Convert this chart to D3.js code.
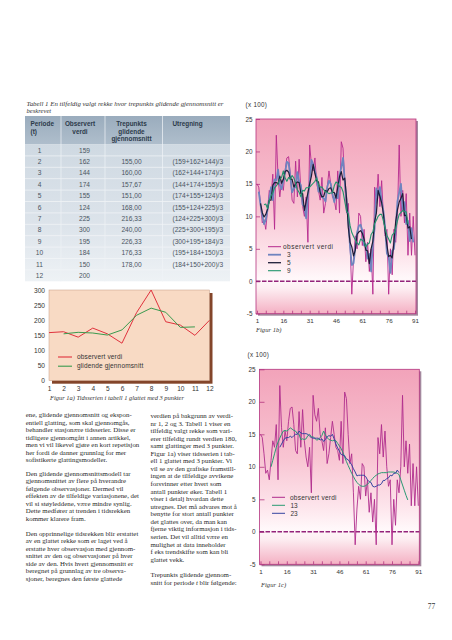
<!DOCTYPE html>
<html><head><meta charset="utf-8">
<script src="https://cdn.jsdelivr.net/npm/d3@7/dist/d3.min.js"></script>
<style>
html,body{margin:0;padding:0;background:#fff;}
svg{display:block;}
</style></head><body>
<svg id="page" width="452" height="640"></svg>
<script>
// ---------------- DATA ----------------
const tableCaption = ["Tabell 1 En tilfeldig valgt rekke hvor trepunkts glidende gjennomsnitt er", "beskrevet"];
const tableHeaders = [["Periode","(t)"],["Observert","verdi"],["Trepunkts","glidende","gjennomsnitt"],["Utregning"]];
const tablePeriods = [1,2,3,4,5,6,7,8,9,10,11,12];
const tableObserved = [159,162,144,174,155,124,225,300,195,184,150,200];
const tableMovingAvg = [null,155.00,160.00,157.67,151.00,168.00,216.33,240.00,226.33,176.33,178.00,null];
const tableFormula = ["","(159+162+144)/3","(162+144+174)/3","(144+174+155)/3","(174+155+124)/3","(155+124+225)/3",
  "(124+225+300)/3","(225+300+195)/3","(300+195+184)/3","(195+184+150)/3","(184+150+200)/3",""];

const fig1aYTicks = [0,50,100,150,200,250,300];
const fig1aLegend = ["observert verdi","glidende gjennomsnitt"];
const fig1aCaption = "Figur 1a) Tidsserien i tabell 1 glattet med 3 punkter";

// 91-period series (x 100)
const observed91 = [
  15,14.5,12,9,9.5,8,11,14,13,16.5,
  8,22.5,16,13,15.5,14,17,19,19.2,16.5,
  12.5,12,18.5,13,18.8,14,11.5,10,13,6,
  21,18,17,19,15,14,12.5,16,10.5,12,
  14.5,17,15,13,12.5,11,17,10.5,21.5,20.5,
  15,10.5,12,6,-2,3.5,7,5,10.5,10,
  5.5,8,3,6,1.5,5,-2,14.5,12,16.5,
  11.5,15.5,10,7,8,-2,5,1,8,6,
  10,21,10,14,9,13.5,4,10.5,4,10,4];
const ma3Start = 2;
const ma3 = [
  13.8,11.8,10.2,8.8,9.5,11,12.7,14.5,12.5,15.7,
  15.5,17.2,14.8,14.2,15.5,16.7,18.4,18.2,16.1,13.7,
  14.3,14.5,16.8,15.3,14.8,11.8,11.5,9.7,13.3,15,
  18.7,18,17,16,13.8,14.2,13,12.8,12.3,14.5,
  15.5,15,13.5,12.2,13.5,12.8,16.3,17.5,19,15.3,
  12.5,9.5,5.3,2.5,2.8,5.2,7.5,8.5,8.7,7.8,
  5.5,5.7,3.5,4.2,1.5,5.8,8.2,14.3,13.3,14.5,
  12.3,10.8,8.3,4.3,3.7,1.3,4.7,5,8,12.3,
  13.7,15,11,12.2,8.8,9.3,6.2,8.2,6];
const ma5Start = 3;
const ma5 = [
  12,10.6,9.9,10.3,11.1,12.5,12.5,14.8,15.2,15.2,
  15,16.2,15.1,15.7,16.9,17.1,16.8,15.8,15.7,14.5,
  15,15.3,15.2,13.5,13.5,10.9,12.3,13.6,15,16.2,
  18,16.6,15.5,15.3,13.6,13,13.1,14,13.8,14.3,
  14.4,13.7,13.7,12.8,14.5,16.1,16.9,15.6,15.9,12.8,
  8.3,6,5.3,3.9,4.8,7.2,7.6,7.8,7.4,6.5,
  4.8,4.7,2.7,5,6.2,9.2,10.5,14,13.1,12.1,
  10.4,7.7,5.6,3.8,4,3.6,6,9.2,11,12.2,
  12.8,13.5,10.1,10.2,8.2,8.4,6.5];
const ma9Start = 5;
const ma9 = [
  11.8,11.9,11.2,12.4,13.2,13.6,14.4,14.7,15.1,15.7,
  16,17,15.9,15.4,16,15.7,16.3,15.9,15.1,14.1,
  13.7,13,14,13.9,14.4,14.4,14.5,14.8,15.1,15.4,
  15.9,14.9,14.5,14.5,14.1,13.8,13.7,13.5,13.6,13.6,
  14.7,15.3,15.1,14.6,14.5,13.8,12.3,10.8,10.4,8.6,
  7.5,6.9,6.4,5.9,5.6,6.5,6.3,6.1,5.3,5.7,
  5.9,7.2,7.6,8.9,9.4,10,10.3,10.3,9.3,8.1,
  7.1,6.5,5.9,7.1,7.4,8.1,9.3,10.3,10.6,10.9,
  10.7,10.7,8.8];
const ma13Start = 7;
const ma13 = [
  10,11,12,13,13.8,14.4,15,15.5,15.6,15.5,
  15.7,16,15.8,15.6,15.5,15.1,15,14.2,14.3,14.2,
  14.3,14.8,15,14.6,14.6,14.4,14.1,14.2,14.5,14.8,
  15.5,14.9,14.5,14.2,14.1,14,14.1,14,13.6,13.2,
  12.8,12.2,11.5,10.8,10.2,9.6,9,8.5,8,7.6,
  7.3,7.1,7,7,7.1,7.3,7.6,7.9,8.2,8.5,
  8.7,8.9,9,9.1,9.1,9.1,9.1,9.2,9.2,9.2,
  9.2,9.1,9,8.8,8,7.2,6.4,5.6,4.9];
const ma23Start = 12;
const ma23 = [
  13,13.5,14,14.4,14.5,14.5,14.7,14.5,14.8,15,
  15,15.5,15.2,15.1,15.1,15.1,15,14.7,14.5,14.4,
  14.4,14.4,14.4,14.1,14.3,13.9,14.2,14.6,14.8,14.7,
  15,14.3,13.5,12.9,12.4,11.9,11.8,11.7,11.2,11.1,
  10.7,10.3,9.7,9.2,8.6,8.7,8.7,8.7,8.7,8.5,
  8,7.7,7.6,7,6.9,7,7.2,7.2,7.4,7.9,
  7.9,8.2,8.3,8.7,8.6,9,9,9.5,9.1];

const figBYTicks = [-5,0,5,10,15,20,25];
const figBXTicks = [1,16,31,46,61,76,91];
const figBMinorStep = 5;
const fig1bLegend = ["observert verdi","3","5","9"];
const fig1cLegend = ["observert verdi","13","23"];
const unitLabel = "(x 100)";

const textLeft = [
 ["ene, glidende gjennomsnitt og ekspon-","entiell glatting, som skal gjennomgås,","behandler stasjonære tidsserier. Disse er","tidligere gjennomgått i annen artikkel,","men vi vil likevel gjøre en kort repetisjon","her fordi de danner grunnlag for mer","sofistikerte glattingsmodeller."],
 ["Den glidende gjennomsnittsmodell tar","gjennomsnittet av flere på hverandre","følgende observasjoner. Dermed vil","effekten av de tilfeldige variasjonene, det","vil si støyleddene, være mindre synlig.","Dette medfører at trenden i tidsrekken","kommer klarere fram."],
 ["Den opprinnelige tidsrekken blir erstattet","av en glattet rekke som er laget ved å","erstatte hver observasjon med gjennom-","snittet av den og observasjoner på hver","side av den. Hvis hvert gjennomsnitt er","beregnet på grunnlag av tre observa-","sjoner, beregnes den første glattede"]
];
const textMiddle = [
 ["verdien på bakgrunn av verdi-","nr 1, 2 og 3. Tabell 1 viser en","tilfeldig valgt rekke som vari-","erer tilfeldig rundt verdien 180,","samt glattinger med 3 punkter.","Figur 1a) viser tidsserien i tab-","ell 1 glattet med 3 punkter. Vi","vil se av den grafiske framstill-","ingen at de tilfeldige avvikene","forsvinner etter hvert som","antall punkter øker. Tabell 1","viser i detalj hvordan dette","utregnes. Det må advares mot å","benytte for stort antall punkter","det glattes over, da man kan","fjerne viktig informasjon i tids-","serien. Det vil alltid være en","mulighet at data inneholder","f eks trendskifte som kan bli","glattet vekk."],
 ["Trepunkts glidende gjennom-","snitt for periode |t| blir følgende:"]
];
const pageNumber = "77";

// ---------------- DRAWING ----------------
const SERIF = "'Liberation Serif','DejaVu Serif',serif";
const SANS = "'Liberation Sans',Arial,sans-serif";
const svg = d3.select("#page");
const defs = svg.append("defs");
svg.append("rect").attr("width",452).attr("height",640).attr("fill","#fff");

function grad(id, stops){
  const g = defs.append("linearGradient").attr("id",id).attr("x1",0).attr("y1",0).attr("x2",0).attr("y2",1);
  stops.forEach(s=>g.append("stop").attr("offset",s[0]).attr("stop-color",s[1]));
}
grad("tblHead",[[0,"#9aacbd"],[1,"#afbecc"]]);
grad("tblBody",[[0,"#cfd9e2"],[0.6,"#dde4eb"],[1,"#eef2f5"]]);
grad("pink",[[0,"#f2a3ba"],[0.45,"#f8c4d2"],[0.7,"#fde4eb"],[0.82,"#fff8fa"],[0.87,"#fdeef2"],[1,"#f4b0c3"]]);

// ---- table caption
svg.append("g").selectAll("text").data(tableCaption).join("text")
  .attr("x",26.5).attr("y",(d,i)=>106.3+i*7)
  .attr("font-family",SERIF).attr("font-style","italic").attr("font-size",6.6).attr("fill","#333")
  .attr("textLength",(d,i)=>i===0?197:null).attr("lengthAdjust","spacingAndGlyphs")
  .text(d=>d);

// ---- table
const tX = 25, tW = 205, tTop = 116, tHeadH = 28.5;
const rowY = d3.scaleBand().domain(tablePeriods).range([tTop+tHeadH, tTop+tHeadH+136.8]);
const tBottom = rowY.range()[1];
svg.append("rect").attr("x",tX).attr("y",tTop).attr("width",tW).attr("height",tHeadH).attr("fill","url(#tblHead)");
svg.append("rect").attr("x",tX).attr("y",tTop+tHeadH).attr("width",tW).attr("height",tBottom-tTop-tHeadH).attr("fill","url(#tblBody)");
svg.append("g").selectAll("line").data(tablePeriods.slice(1)).join("line")
  .attr("x1",tX).attr("x2",tX+tW).attr("y1",d=>rowY(d)).attr("y2",d=>rowY(d))
  .attr("stroke","#f3f6f8").attr("stroke-width",0.7);
svg.append("g").selectAll("line").data([61,105,162.5]).join("line")
  .attr("x1",d=>d).attr("x2",d=>d).attr("y1",tTop).attr("y2",tBottom)
  .attr("stroke","#f0f4f7").attr("stroke-width",0.8).attr("opacity",0.9);
const headCols = [{x:30.5,a:"start"},{x:80,a:"middle"},{x:131.5,a:"middle"},{x:172.5,a:"start"}];
tableHeaders.forEach((h,ci)=>{
  h.forEach((s,li)=>{
    svg.append("text").attr("x",headCols[ci].x).attr("y",126.3+li*7.2)
      .attr("text-anchor",headCols[ci].a).attr("font-family",SANS).attr("font-weight","bold")
      .attr("font-size",6.4).attr("fill","#2c3a4a").text(s);
  });
});
const fmt = v => v==null ? "" : v.toFixed(2).replace(".",",");
const cellG = svg.append("g").attr("font-family",SANS).attr("font-size",6.6).attr("fill","#4a5562");
const cy = p => rowY(p)+rowY.bandwidth()/2+2.3;
cellG.selectAll(".c1").data(tablePeriods).join("text").attr("x",39.5).attr("y",d=>cy(d)).attr("text-anchor","middle").text(d=>d);
cellG.selectAll(".c2").data(tableObserved).join("text").attr("x",84.5).attr("y",(d,i)=>cy(tablePeriods[i])).attr("text-anchor","middle").text(d=>d);
cellG.selectAll(".c3").data(tableMovingAvg).join("text").attr("x",131.5).attr("y",(d,i)=>cy(tablePeriods[i])).attr("text-anchor","middle").text(fmt);
cellG.selectAll(".c4").data(tableFormula).join("text").attr("x",172.5).attr("y",(d,i)=>cy(tablePeriods[i])).text(d=>d);

// ---- Figure 1a
const xa = d3.scaleLinear().domain([1,12]).range([49,209.5]);
const ya = d3.scaleLinear().domain([0,300]).range([380.7,290]);
svg.append("rect").attr("x",xa(1)+3).attr("y",ya(300)+3).attr("width",xa(12)-xa(1)).attr("height",ya(0)-ya(300)).attr("fill","#83452a");
svg.append("rect").attr("x",xa(1)).attr("y",ya(300)).attr("width",xa(12)-xa(1)).attr("height",ya(0)-ya(300))
  .attr("fill","#f8dac4").attr("stroke","#c29a84").attr("stroke-width",0.5);
function styleAxis(g,size,col){
  g.select(".domain").remove();
  g.attr("font-family",SANS).attr("font-size",size).attr("color",col||"#333");
  g.selectAll("text").attr("fill","#333");
}
svg.append("g").attr("transform",`translate(${xa(1)},0)`)
  .call(d3.axisLeft(ya).tickValues(fig1aYTicks).tickSize(0).tickPadding(4).tickFormat(d=>String(d)))
  .call(g=>styleAxis(g,6.6));
svg.append("g").attr("transform",`translate(0,${ya(0)})`)
  .call(d3.axisBottom(xa).tickValues(tablePeriods).tickSize(0).tickPadding(6).tickFormat(d=>String(d)))
  .call(g=>styleAxis(g,6.6));
const la = d3.line().defined(d=>d.v!=null).x(d=>xa(d.t)).y(d=>ya(d.v));
svg.append("path").attr("d",la(tableObserved.map((v,i)=>({t:tablePeriods[i],v}))))
  .attr("fill","none").attr("stroke","#e0323d").attr("stroke-width",1);
svg.append("path").attr("d",la(tableMovingAvg.map((v,i)=>({t:tablePeriods[i],v}))))
  .attr("fill","none").attr("stroke","#3a9a4e").attr("stroke-width",1);
const aCols = ["#e0323d","#3a9a4e"];
fig1aLegend.forEach((s,i)=>{
  const y = 357+i*9.2;
  svg.append("line").attr("x1",58).attr("x2",72).attr("y1",y).attr("y2",y).attr("stroke",aCols[i]).attr("stroke-width",1.1);
  svg.append("text").attr("x",77).attr("y",y+2.2).attr("font-family",SANS).attr("font-size",6.5)
    .attr("letter-spacing",0.15).attr("fill","#333").text(s);
});
svg.append("text").attr("x",50).attr("y",400).attr("font-family",SERIF).attr("font-style","italic")
  .attr("font-size",6.6).attr("fill","#333").attr("textLength",134).attr("lengthAdjust","spacingAndGlyphs").text(fig1aCaption);

// ---- Figures 1b / 1c
function timeChart(cfg){
  const x = d3.scaleLinear().domain([1,91]).range(cfg.xr);
  const y = d3.scaleLinear().domain([-5,25]).range(cfg.yr);
  const bx = cfg.xr[0]-1, bw = cfg.xr[1]-cfg.xr[0]+2, by = y(25), bh = y(-5)-y(25);
  svg.append("rect").attr("x",bx+2).attr("y",by+2).attr("width",bw).attr("height",bh).attr("fill","#a4889e");
  svg.append("rect").attr("x",bx).attr("y",by).attr("width",bw).attr("height",bh)
    .attr("fill","url(#pink)").attr("stroke","#b4347f").attr("stroke-width",0.8);
  svg.append("text").attr("x",cfg.unitX).attr("y",y(25)-12).attr("font-family",SANS).attr("font-size",6.3)
    .attr("letter-spacing",0.3).attr("fill","#333").text(unitLabel);
  svg.append("g").attr("transform",`translate(${bx},0)`)
    .call(d3.axisLeft(y).tickValues(figBYTicks).tickSizeInner(-cfg.tick).tickSizeOuter(0).tickPadding(cfg.pad).tickFormat(d=>String(d)))
    .call(g=>{styleAxis(g,6.4,"#b4347f"); g.selectAll("line").attr("stroke-width",0.8);});
  svg.append("g").attr("transform",`translate(0,${by+bh})`)
    .call(d3.axisBottom(x).tickValues(figBXTicks).tickSize(0).tickPadding(5).tickFormat(d=>String(d)))
    .call(g=>styleAxis(g,6.2));
  svg.append("g").attr("transform",`translate(0,${by+bh})`)
    .call(d3.axisBottom(x).tickValues(d3.range(1,92,figBMinorStep)).tickSize(-3).tickFormat(""))
    .call(g=>{g.select(".domain").remove(); g.attr("color","#b4347f"); g.selectAll("line").attr("stroke-width",0.8);});
  svg.append("line").attr("x1",bx).attr("x2",bx+bw).attr("y1",y(0)).attr("y2",y(0))
    .attr("stroke","#93237a").attr("stroke-width",1.5).attr("stroke-dasharray","4.5,1.5");
  const line = d3.line().x(d=>x(d.t)).y(d=>y(d.v));
  cfg.series.forEach(s=>{
    svg.append("path").attr("d",line(s.values.map((v,i)=>({t:s.start+i,v}))))
      .attr("fill","none").attr("stroke",s.color).attr("stroke-width",s.w).attr("stroke-linejoin","round");
  });
  cfg.legend.forEach((s,i)=>{
    const ly = cfg.legY + i*cfg.legDy;
    svg.append("line").attr("x1",cfg.legX1).attr("x2",cfg.legX2).attr("y1",ly).attr("y2",ly)
      .attr("stroke",cfg.legColors[i]).attr("stroke-width",cfg.legW[i]);
    svg.append("text").attr("x",i===0?cfg.legTx0:cfg.legTx).attr("y",ly+2.2).attr("font-family",SANS).attr("font-size",6.5)
      .attr("letter-spacing",i===0?cfg.ls:0).attr("fill","#333").text(s);
  });
  svg.append("text").attr("x",cfg.capX).attr("y",by+bh+cfg.capDy).attr("font-family",SERIF).attr("font-style","italic")
    .attr("font-size",6.6).attr("fill","#333").text(cfg.caption);
}

timeChart({
  xr:[257,415], yr:[313.7,119], unitX:245.5, tick:4, pad:3.5,
  series:[
    {values:observed91,start:1,color:"#b5298d",w:0.9},
    {values:ma3,start:ma3Start,color:"#6f84bf",w:1.8},
    {values:ma5,start:ma5Start,color:"#1d1e38",w:1.2},
    {values:ma9,start:ma9Start,color:"#22956c",w:1.1}
  ],
  legend:fig1bLegend, legColors:["#b5298d","#6f84bf","#1d1e38","#22956c"], legW:[1,1.8,1.3,1.1],
  legY:246.7, legDy:8, legX1:268, legX2:281, legTx0:283, legTx:287, ls:0.5,
  caption:"Figur 1b)", capX:256, capDy:18
});
timeChart({
  xr:[260.5,418.3], yr:[564.3,369.3], unitX:247.5, tick:5, pad:4,
  series:[
    {values:observed91,start:1,color:"#b02c8c",w:0.9},
    {values:ma13,start:ma13Start,color:"#2a9a72",w:1},
    {values:ma23,start:ma23Start,color:"#3545a0",w:1}
  ],
  legend:fig1cLegend, legColors:["#b02c8c","#2a9a72","#3545a0"], legW:[1,1,1],
  legY:497.3, legDy:8, legX1:272, legX2:285, legTx0:290, legTx:290.5, ls:0.25,
  caption:"Figur 1c)", capX:261, capDy:22.5
});

// ---- body text
function column(paras, x, starts){
  const g = svg.append("g").attr("font-family",SERIF).attr("font-size",6.85).attr("fill","#2a2a2a");
  paras.forEach((lines,pi)=>{
    lines.forEach((s,li)=>{
      const t = g.append("text").attr("x",x).attr("y",starts[pi]+li*7.56+2.3);
      s.split("|").forEach((part,k)=>{
        t.append("tspan").attr("font-style",k%2===1?"italic":null).text(part);
      });
    });
  });
}
column(textLeft, 25.8, [414.8,473.3,533.3]);
column(textMiddle, 150.5, [415.7,575]);

svg.append("text").attr("x",431.5).attr("y",608.5).attr("text-anchor","middle").attr("font-family",SERIF)
  .attr("font-size",7.5).attr("fill","#333").text(pageNumber);
</script></body></html>
